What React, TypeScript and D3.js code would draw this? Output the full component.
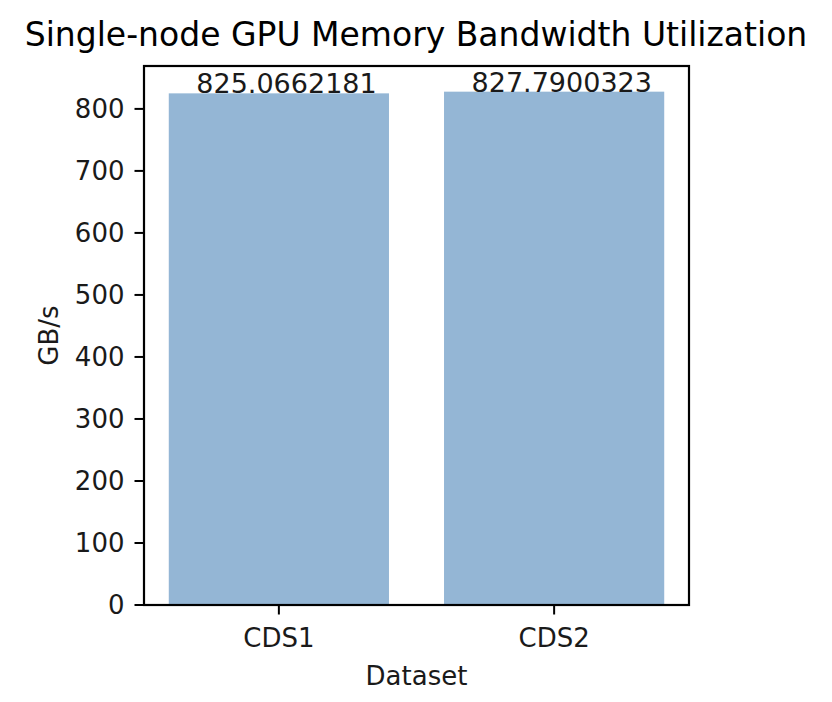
import * as d3 from 'd3';
import React from 'react';

const categories = ['CDS1', 'CDS2'];
const values = [825.0662181, 827.7900323];
const valueLabels = ['825.0662181', '827.7900323'];
const yTicks = [0, 100, 200, 300, 400, 500, 600, 700, 800];

const FONT = '"DejaVu Sans", sans-serif';

export default function App() {
  const width = 832;
  const height = 702;
  const margin = { top: 66, right: 143, bottom: 97, left: 144 };
  const innerW = width - margin.left - margin.right;
  const innerH = height - margin.top - margin.bottom;

  // matplotlib-like limits: bars are 0.8 wide, 5% margins
  const xScale = d3.scaleLinear().domain([-0.49, 1.49]).range([0, innerW]);
  const yScale = d3
    .scaleLinear()
    .domain([0, d3.max(values)! * 1.05])
    .range([innerH, 0]);

  const barColor = '#94b6d5';
  const tickLen = 9.5;

  return (
    <svg
      width={width}
      height={height}
      style={{ position: 'absolute', left: 0, top: 0, background: '#fff' }}
      fontFamily={FONT}
    >
      <text x={width / 2} y={46} textAnchor="middle" fontSize={33} fill="#000">
        Single-node GPU Memory Bandwidth Utilization
      </text>
      <g transform={`translate(${margin.left},${margin.top})`}>
        {categories.map((c, i) => (
          <rect
            key={c}
            x={xScale(i - 0.4)}
            y={yScale(values[i])}
            width={xScale(i + 0.4) - xScale(i - 0.4)}
            height={innerH - yScale(values[i])}
            fill={barColor}
          />
        ))}
        {categories.map((c, i) => (
          <text
            key={c + 'v'}
            x={xScale(i - 0.3)}
            y={yScale(values[i])}
            fontSize={27}
            fill="#1a1a1a"
          >
            {valueLabels[i]}
          </text>
        ))}
        <rect
          x={0}
          y={0}
          width={innerW}
          height={innerH}
          fill="none"
          stroke="#000"
          strokeWidth={2.2}
        />
        {yTicks.map((t) => (
          <g key={t} transform={`translate(0,${yScale(t)})`}>
            <line x1={-tickLen} x2={0} stroke="#000" strokeWidth={2} />
            <text x={-tickLen - 10} dy="0.36em" textAnchor="end" fontSize={26} fill="#1a1a1a">
              {t}
            </text>
          </g>
        ))}
        {categories.map((c, i) => (
          <g key={c + 't'} transform={`translate(${xScale(i)},${innerH})`}>
            <line y1={0} y2={tickLen} stroke="#000" strokeWidth={2} />
            <text y={42} textAnchor="middle" fontSize={26} fill="#1a1a1a">
              {c}
            </text>
          </g>
        ))}
        <text
          x={innerW / 2}
          y={innerH + 80}
          textAnchor="middle"
          fontSize={26}
          fill="#1a1a1a"
        >
          Dataset
        </text>
        <text
          transform={`translate(${-margin.left + 58},${innerH / 2}) rotate(-90)`}
          textAnchor="middle"
          fontSize={26}
          fill="#1a1a1a"
        >
          GB/s
        </text>
      </g>
    </svg>
  );
}
